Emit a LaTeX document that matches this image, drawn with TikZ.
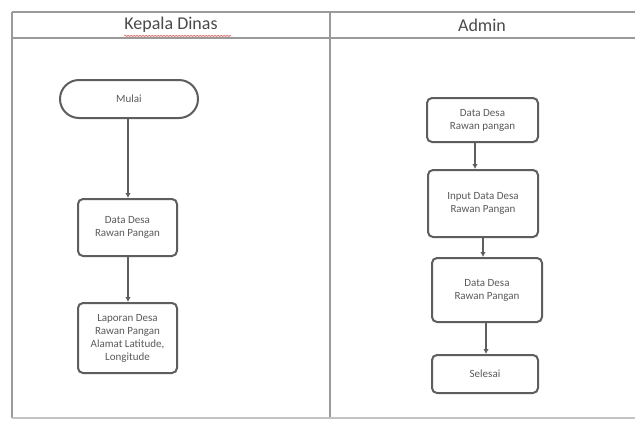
\documentclass[tikz,border=0pt]{standalone}
\usepackage{fontspec}
\setmainfont{Carlito}
\usetikzlibrary{arrows.meta,decorations.pathmorphing}
\definecolor{tblgray}{HTML}{9A9A9A}
\definecolor{boxgray}{HTML}{5E5E5E}
\definecolor{txtgray}{HTML}{5A5A5A}
\definecolor{hdrtxt}{HTML}{4A4A4A}
\definecolor{spellred}{HTML}{E08080}
\begin{document}
\begin{tikzpicture}[x=1pt,y=-1pt,
  tbl/.style={draw=tblgray,line width=1.6pt},
  tbllight/.style={draw=tblgray!60,line width=1.4pt},
  hdr/.style={font=\fontsize{18}{20}\selectfont,text=hdrtxt,inner sep=0pt},
  box/.style={draw=boxgray,line width=2pt,rounded corners=5pt,align=center,
    font=\fontsize{11}{13}\selectfont,text=txtgray,inner sep=0pt},
  term/.style={box,rounded corners=19pt},
  arr/.style={draw=boxgray,line width=1.8pt,-{Latex[length=5pt,width=5.5pt]}},
  spell/.style={draw=spellred,line width=0.8pt,decorate,
    decoration={snake,amplitude=0.7pt,segment length=3pt}}
]
\useasboundingbox (0,0) rectangle (635,421);
\fill[white] (0,0) rectangle (635,421);

% table frame
\coordinate (tl) at (12,12);
\coordinate (tr) at (635,12);
\coordinate (hl) at (12,38);
\coordinate (hr) at (635,38);
\coordinate (bl) at (12,418);
\coordinate (br) at (635,418);
\coordinate (mt) at (330,12);
\coordinate (mb) at (330,418);
\draw[tbl] (tl) -- (tr);
\draw[tbl] (hl) -- (hr);
\draw[tbl] (tl) -- (bl);
\draw[tbl] (mt) -- (mb);
\draw[tbllight] (bl) -- (br);

% headers
\node[hdr] (h1) at (171,25) {Kepala Dinas};
\draw[spell] (h1.south west) ++(0,3) -- ++(107,0);
\node[hdr] (h2) at (482,25) {Admin};

% left lane
\node[term,minimum width=138pt,minimum height=38pt] (M) at (129,99) {Mulai};
\node[box,minimum width=99pt,minimum height=57pt] (L2) at (127.5,227.5) {Data Desa\\Rawan Pangan};
\node[box,minimum width=99pt,minimum height=70pt] (L3) at (127.5,338) {Laporan Desa\\Rawan Pangan\\Alamat Latitude,\\Longitude};

\draw[arr] ([xshift=-1pt]M.south) -- ([xshift=0.5pt]L2.north);
\draw[arr] ([xshift=0.5pt]L2.south) -- ([xshift=0.5pt]L3.north);

% right lane
\node[box,minimum width=111pt,minimum height=44pt] (R1) at (482.5,120) {Data Desa\\Rawan pangan};
\node[box,minimum width=110pt,minimum height=67pt] (R2) at (483,203.5) {Input Data Desa\\Rawan Pangan};
\node[box,minimum width=110pt,minimum height=64pt] (R3) at (487,290) {Data Desa\\Rawan Pangan};
\node[box,minimum width=106pt,minimum height=38pt] (R4) at (485,374) {Selesai};

\draw[arr] ([xshift=-7.5pt]R1.south) -- ([xshift=-8pt]R2.north);
\draw[arr] ([xshift=0pt]R2.south) -- ([xshift=-4pt]R3.north);
\draw[arr] ([xshift=-1pt]R3.south) -- ([xshift=1pt]R4.north);
\end{tikzpicture}
\end{document}
